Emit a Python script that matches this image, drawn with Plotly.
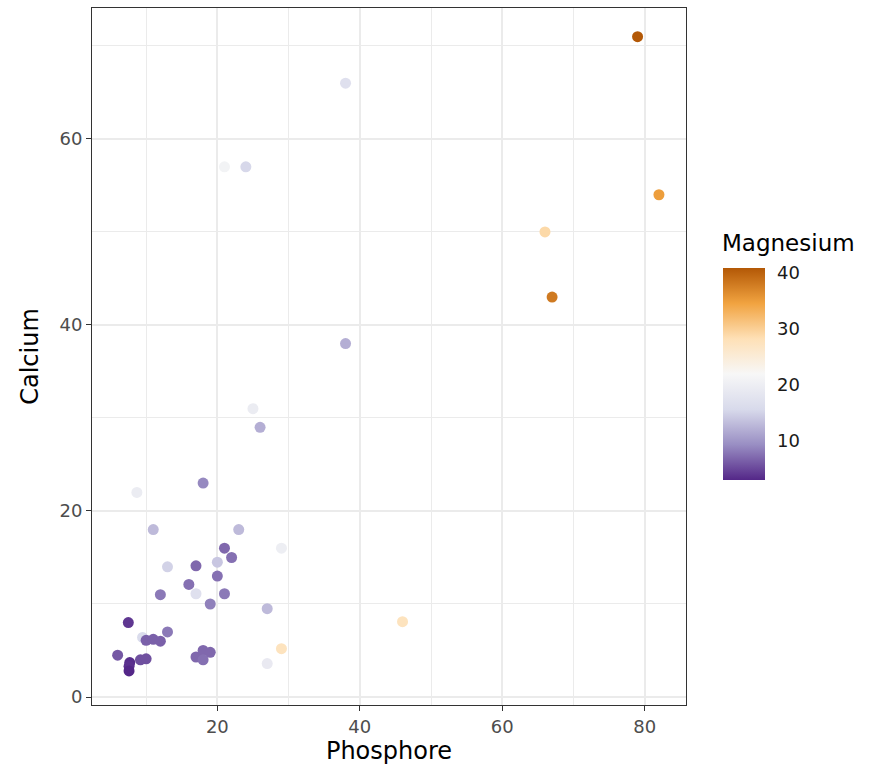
import plotly.graph_objects as go

# Mineral content per sample
phosphore = [79, 82, 66, 67, 38, 21, 24, 38, 25, 26,
             8.7, 18, 11, 23, 29, 21, 22, 20, 13, 17,
             20, 16, 12, 17, 21, 19, 27, 46, 7.5, 9.5,
             10, 11, 12, 13, 6, 7.7, 7.6, 7.6, 9.2, 10,
             17, 18, 19, 18, 29, 27]
calcium = [71, 54, 50, 43, 66, 57, 57, 38, 31, 29,
           22, 23, 18, 18, 16, 16, 15, 14.5, 14, 14.1,
           13, 12.1, 11, 11.1, 11.1, 10, 9.5, 8.1, 8, 6.4,
           6.1, 6.2, 6.0, 7.0, 4.5, 3.7, 3.3, 2.8, 4.0, 4.1,
           4.3, 5.0, 4.8, 4.0, 5.2, 3.6]
magnesium = [40.9, 35, 29, 38, 17, 21, 15.5, 12, 19.5, 12,
             19.5, 9, 13, 13, 20, 7, 7.5, 14, 15, 7,
             7.5, 7.5, 8, 17, 8, 8.5, 13, 27.5, 4, 16,
             6.5, 6.5, 6.5, 8, 6, 3.4, 3.6, 3.0, 5.5, 5.5,
             7, 7, 7, 7.5, 27.5, 19]

x_ticks = [20, 40, 60, 80]
y_ticks = [0, 20, 40, 60]
cbar_ticks = [10, 20, 30, 40]

# PuOr diverging palette, purple (low) to orange (high)
puor = ["#542788", "#998ec3", "#d8daeb", "#f7f7f7", "#fee0b6", "#f1a340", "#b35806"]
colorscale = [[i / (len(puor) - 1), c] for i, c in enumerate(puor)]

fig = go.Figure(
    go.Scatter(
        x=phosphore,
        y=calcium,
        mode="markers",
        marker=dict(
            size=11,
            color=magnesium,
            colorscale=colorscale,
            line=dict(width=0),
            colorbar=dict(
                x=1.062, xanchor="left", xpad=0,
                y=0.3228, yanchor="bottom", ypad=0,
                len=212, lenmode="pixels",
                thickness=42,
                outlinewidth=0,
                tickvals=cbar_ticks,
                # invisible outside ticks keep the labels clear of the bar
                ticks="outside", ticklen=9, tickcolor="rgba(255,255,255,0)",
                tickfont=dict(size=18, color="#1a1a1a"),
            ),
        ),
        hoverinfo="x+y",
    )
)

# Colour legend title, left-aligned with the bar
fig.add_annotation(
    text="Magnesium", xref="paper", yref="paper",
    x=1.057, y=0.642, xanchor="left", yanchor="bottom",
    showarrow=False, font=dict(size=23, color="#000000"),
)

grid = "#ebebeb"
axis_common = dict(
    showline=True, linecolor="#333333", linewidth=1, mirror=True,
    ticks="outside", ticklen=5, tickcolor="#333333", tickwidth=1,
    tickfont=dict(size=18, color="#4d4d4d"),
    showgrid=True, gridcolor=grid, gridwidth=2,
    zeroline=False,
)

fig.update_layout(
    width=871, height=768,
    margin=dict(l=92, r=185, t=8, b=63),
    paper_bgcolor="white", plot_bgcolor="white",
    font=dict(family="DejaVu Sans, Liberation Sans, sans-serif", color="#000000"),
    showlegend=False,
    xaxis=dict(
        range=[2.4, 85.8], tickvals=x_ticks,
        title=dict(text="Phosphore", font=dict(size=24), standoff=6),
        minor=dict(tickvals=[10, 30, 50, 70], showgrid=True,
                   gridcolor=grid, gridwidth=1, ticks=""),
        **axis_common,
    ),
    yaxis=dict(
        range=[-0.86, 74.08], tickvals=y_ticks,
        title=dict(text="Calcium", font=dict(size=24), standoff=14),
        minor=dict(tickvals=[10, 30, 50, 70], showgrid=True,
                   gridcolor=grid, gridwidth=1, ticks=""),
        **axis_common,
    ),
)

fig.write_html("out.html")
